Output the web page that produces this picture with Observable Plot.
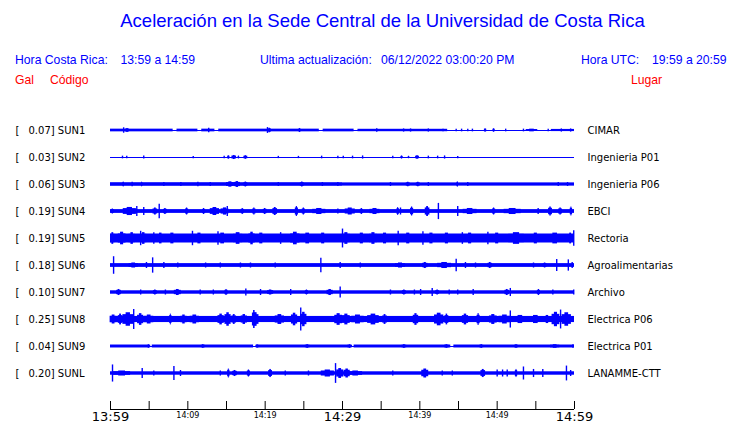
<!DOCTYPE html>
<html><head><meta charset="utf-8">
<script src="https://cdn.jsdelivr.net/npm/d3@7"></script>
<script src="https://cdn.jsdelivr.net/npm/@observablehq/plot@0.6"></script>
<style>
body{margin:0;background:#fff;}
#wrap{position:relative;width:740px;height:423px;overflow:hidden;font-family:"Liberation Sans",Arial,sans-serif;}
.t{position:absolute;white-space:pre;line-height:14px;font-size:12.2px;color:#0000ff;}
.r{color:#ff0000;}
#title{position:absolute;left:0;width:765px;text-align:center;top:10px;font-size:18.5px;line-height:22px;color:#0000ff;}
#chart{position:absolute;left:0;top:100px;}
</style></head><body>
<div id="wrap">
  <div id="title"></div>
  <div id="hdr"></div>
  <div id="chart"></div>
</div>
<script>
// ---- text content ----
const titleText = "Aceleración en la Sede Central de la Universidad de Costa Rica";
const headerTexts = ["Hora Costa Rica:", "13:59 a 14:59", "Ultima actualización:", "06/12/2022 03:00:20 PM", "Hora UTC:", "19:59 a 20:59"];
const headerLeft = [15, 120.5, 260, 381, 581, 652];
const columnTexts = ["Gal", "Código", "Lugar"];
const columnLeft = [15, 50, 631];

// ---- stations ----
const stations = ["SUN1","SUN2","SUN3","SUN4","SUN5","SUN6","SUN7","SUN8","SUN9","SUNL"];
const maxGal = ["0.07","0.03","0.06","0.19","0.19","0.18","0.10","0.25","0.04","0.20"];
const places = ["CIMAR","Ingenieria P01","Ingenieria P06","EBCI","Rectoria","Agroalimentarias","Archivo","Electrica P06","Electrica P01","LANAMME-CTT"];

// ---- time axis (minutes after 13:59) ----
const tickMinutes = [0,5,10,15,20,25,30,35,40,45,50,55,60];
const bigLabelMinutes = [0,30,60];
const bigLabels = ["13:59","14:29","14:59"];
const smallLabelMinutes = [10,20,40,50];
const smallLabels = ["14:09","14:19","14:39","14:49"];

// ---- traces: steady band [start min, end min, half amplitude Gal] ----
const coreSUN1 = [[0,8.1,0.03],[8.6,11.3,0.03],[11.8,13.5,0.03],[14,27,0.03],[27.5,31.5,0.03],[32,43.6,0.027],[57,60,0.024]];
const coreSUN2 = [];
const coreSUN3 = [[0,30,0.04],[30,60,0.036]];
const coreSUN4 = [[0,60,0.042]];
const coreSUN5 = [[0,60,0.1]];
const coreSUN6 = [[0,60,0.042]];
const coreSUN7 = [[0,60,0.038]];
const coreSUN8 = [[0,60,0.068]];
const coreSUN9 = [[0,5,0.033],[5.4,18.5,0.033],[19,31,0.033],[31.5,44,0.033],[44.4,60,0.033]];
const coreSUNL = [[0,60,0.038]];

// ---- bursts: [minute, half amplitude Gal, duration min] (0 = single spike) ----
const evSUN1 = [[1.7,0.06,0],[2.2,0.045,0.5],[12.7,0.05,0],[20.3,0.065,0],[20.6,0.05,0.4],[24.5,0.045,0.3],[34.5,0.045,0.2],
  [37.9,0.035,0],[38.8,0.035,0],[41.1,0.035,0],[43,0.03,0],[44.7,0.03,0],[45.4,0.03,0],[46.2,0.03,0],[46.8,0.03,0],
  [48.5,0.04,0.3],[49.6,0.04,0.3],[51.1,0.03,0],[53.4,0.03,0],[54.5,0.03,1.5],[56.6,0.03,0],[58.3,0.035,0],[59.5,0.035,0]];
const evSUN2 = [[1.55,0.03,0],[2.1,0.03,0],[4.3,0.035,0],[10.7,0.025,0],[14.7,0.03,0],[15.3,0.04,0.3],[16.0,0.045,0.6],[16.6,0.035,0.2],
  [17.5,0.04,0.5],[21.7,0.025,0],[24.3,0.025,0],[27.3,0.03,0],[29.4,0.03,0],[30.1,0.03,0],[31.3,0.03,0],[32.6,0.035,0],[36.5,0.03,0],
  [37.7,0.035,0.3],[38.6,0.03,0.2],[39.7,0.04,0.5],[41.1,0.03,0],[42.3,0.03,0],[43.2,0.035,0],[44.9,0.025,0]];
const evSUN3 = [[1.7,0.06,0.2],[2.8,0.05,0],[4.1,0.055,0.2],[6.9,0.045,0],[9.1,0.045,0],[11.3,0.05,0],[12.9,0.045,0],[15.5,0.06,1.0],
  [16.4,0.065,0.8],[17.5,0.055,0.5],[21.7,0.045,0],[24.8,0.055,0.5],[27.4,0.045,0],[29.4,0.045,0],[36.2,0.045,0],[38.5,0.05,0.5],
  [39.8,0.05,0.5],[41.1,0.045,0],[44.9,0.065,0.2],[46.2,0.045,0],[57.9,0.045,0],[59.1,0.045,0]];
const evSUN4 = [[0.3,0.056,0.4],[2.5,0.09,1.7],[3.4,0.11,0],[4.3,0.09,0],[5.8,0.078,0.6],[6.3,0.16,0],[7.1,0.067,0.5],[9.9,0.078,0.4],
  [12.1,0.067,0.4],[13.5,0.089,1.2],[14.8,0.08,1.0],[15.1,0.11,0],[17.1,0.067,0.4],[18.6,0.078,0.4],[20.0,0.067,0.5],[21.3,0.089,0.6],
  [24.1,0.11,0.4],[25.0,0.078,0.4],[27.0,0.067,1.7],[29.4,0.056,0],[31.0,0.078,1.3],[32.5,0.067,0.4],[34.2,0.067,1.3],[37.2,0.089,0.3],
  [37.5,0.078,0],[39.0,0.1,0.4],[41.0,0.11,0.6],[42.4,0.18,0],[44.9,0.11,0],[46.5,0.067,1.8],[49.6,0.078,0.4],[52.0,0.067,2.2],
  [55.3,0.067,0],[56.9,0.1,0.5],[58.2,0.078,0.5],[59.6,0.1,0.3]];
const evSUN5 = [[0.3,0.13,0.6],[1.5,0.14,1.0],[2.8,0.13,0.8],[3.9,0.16,0],[4.3,0.13,0.8],[5.6,0.13,0],[6.5,0.12,0.8],[8,0.12,1],
  [10.6,0.16,0],[11.5,0.12,1],[13.9,0.15,0],[14.5,0.12,1.2],[16.5,0.13,1.2],[18.3,0.14,0.8],[19.5,0.12,1],[22.0,0.13,0],
  [23.9,0.14,1.2],[25.5,0.12,1.2],[27.5,0.12,1],[30.0,0.21,0],[30.5,0.13,1],[32.5,0.12,1],[34.0,0.13,1],[35.5,0.12,1],[37.2,0.16,0],
  [38.5,0.12,1],[40.4,0.15,0],[41.5,0.12,1],[43.5,0.12,1],[45.5,0.13,0],[46.5,0.12,1],[48.8,0.14,0],[50.0,0.12,1],[52.5,0.13,2],
  [55,0.12,1],[57.5,0.12,1.5],[59.5,0.12,0.6],[59.9,0.17,0]];
const evSUN6 = [[0.4,0.195,0],[3.0,0.056,1.2],[4.65,0.067,0],[5.45,0.17,0],[6.9,0.067,0],[8.7,0.056,0],[12.3,0.056,0],[14.2,0.056,0],
  [16.8,0.056,0],[18.1,0.056,0],[21.3,0.056,0],[27.2,0.16,0],[29.7,0.067,0],[32.3,0.056,0],[37.5,0.056,1.3],[40.7,0.067,0.7],
  [43.2,0.067,1.8],[44.7,0.14,0],[45.9,0.067,0],[47.2,0.056,0],[49.1,0.067,0.6],[54.7,0.056,0],[56.2,0.056,0.5],[57.7,0.135,0],
  [59.2,0.125,0],[59.7,0.067,0]];
const evSUN7 = [[1.1,0.067,0.6],[3.9,0.056,0],[5.8,0.056,0.5],[7.1,0.056,0],[8.7,0.067,0.9],[11.6,0.056,0],[13.3,0.056,0],[15.0,0.067,0.4],
  [17.5,0.078,0],[19.4,0.067,0],[20.7,0.056,0.8],[23.3,0.067,0],[25.4,0.056,0.4],[28.4,0.067,0.8],[29.7,0.12,0],[36.2,0.056,0],
  [38.0,0.056,0.5],[39.3,0.056,0],[40.1,0.067,0],[41.6,0.09,0],[42.3,0.056,0.5],[43.8,0.056,0],[44.9,0.056,0],[46.9,0.067,0],
  [51.3,0.067,0.6],[51.7,0.09,0],[55.4,0.067,0.4],[57.2,0.056,0],[59.9,0.056,0]];
const evSUN8 = [[0.4,0.1,0.9],[1.3,0.12,0.6],[2.3,0.15,1.4],[3.0,0.22,0],[3.9,0.13,0.8],[5.0,0.1,1.2],[7.8,0.12,0.3],[9.5,0.1,0.8],
  [10.9,0.1,1.2],[14.3,0.12,0.8],[15.2,0.15,0.8],[16.0,0.11,0.6],[17.3,0.11,0.8],[18.6,0.2,0.5],[18.8,0.15,0.8],[21.9,0.11,1.2],
  [23.8,0.14,0.8],[24.6,0.255,0],[25.0,0.16,0.8],[29.5,0.13,1.0],[30.5,0.12,1.0],[32.0,0.1,1.6],[34.0,0.12,1.5],[35.5,0.11,0.6],
  [39.5,0.13,0.7],[42.5,0.14,1.2],[43.5,0.12,0.5],[45.9,0.12,0.8],[47.6,0.13,0.4],[49.5,0.11,1],[51.0,0.1,1.5],[51.7,0.19,0],
  [53.0,0.09,1.5],[55.0,0.09,1.5],[56.5,0.09,0.8],[57.6,0.16,1.0],[58.2,0.21,0],[59.0,0.15,1.2]];
const evSUN9 = [[5,0.04,0.4],[12,0.04,0.5],[19,0.04,0.4],[25.5,0.04,0.6],[31,0.04,0.6],[38,0.04,0.6],[43.5,0.04,0.6],[48,0.04,0.5],
  [52.5,0.04,0.5],[57.5,0.04,1.2],[59.8,0.04,0]];
const evSUNL = [[0.26,0.19,0],[1.5,0.056,2.2],[4.1,0.11,0],[5.6,0.056,0],[8.2,0.155,0],[9.05,0.067,0],[14.2,0.056,0],[15.3,0.1,0.3],
  [16.1,0.067,0.6],[17.9,0.078,0.4],[20.7,0.09,0.5],[22.6,0.056,0],[25.6,0.056,0],[28.1,0.078,1.7],[29.1,0.22,0],[29.7,0.11,0.9],
  [30.6,0.1,0.8],[31.7,0.056,1.8],[36.5,0.056,0],[40.7,0.1,0.9],[42.9,0.056,0],[44.2,0.056,0],[48.2,0.09,0.6],[50.0,0.078,0],
  [50.7,0.078,0],[51.3,0.078,0],[52.5,0.09,0.3],[53.4,0.145,0],[54.7,0.09,0],[55.9,0.09,0],[58.96,0.165,0],[59.5,0.067,0]];

const cores = [coreSUN1,coreSUN2,coreSUN3,coreSUN4,coreSUN5,coreSUN6,coreSUN7,coreSUN8,coreSUN9,coreSUNL];
const events = [evSUN1,evSUN2,evSUN3,evSUN4,evSUN5,evSUN6,evSUN7,evSUN8,evSUN9,evSUNL];

// ---- header HTML ----
document.getElementById("title").textContent = titleText;
const hdr = document.getElementById("hdr");
headerTexts.forEach((t,i)=>{const d=document.createElement("div");d.className="t";d.style.left=headerLeft[i]+"px";d.style.top="53px";d.textContent=t;hdr.appendChild(d);});
columnTexts.forEach((t,i)=>{const d=document.createElement("div");d.className="t r";d.style.left=columnLeft[i]+"px";d.style.top="73px";d.textContent=t;hdr.appendChild(d);});

// ---- layout of the trace stack ----
const BLUE = "#0000ff";
const ROW = 0.6;            // Gal between neighbouring baselines
const PXG = 45;             // pixels per Gal
const H = 323, MB = 14;
const Y_MAX = 30 / PXG;
const Y_MIN = Y_MAX - (H - MB) / PXG;
const TICK = 8 / PXG;

const base = i => -i * ROW;
const rows = stations.map((s,i)=>({i, code:s, gal:maxGal[i]+"] "+s, place:places[i], y:base(i)}));
const coreData = cores.flatMap((segs,i)=>segs.map(([a,b,h])=>({i,a,b,h})));
const evData = events.flatMap((evs,i)=>evs.map(([m,h,w],k)=>({i,m,h,w})));
const spikes = evData.filter(d=>d.w===0);
const bursts = evData.filter(d=>d.w>0);

const chart = Plot.plot({
  width:740, height:H, marginLeft:110, marginRight:166, marginTop:0, marginBottom:MB,
  x:{domain:[0,60], axis:null},
  y:{domain:[Y_MIN,Y_MAX], axis:null},
  style:{fontFamily:"'DejaVu Sans', sans-serif", fontSize:"10px", background:"white", color:"black", overflow:"visible"},
  marks:[
    Plot.ruleY(rows,{y:"y", stroke:BLUE, strokeWidth:1}),
    Plot.rect(coreData,{x1:"a", x2:"b", y1:d=>base(d.i)-d.h, y2:d=>base(d.i)+d.h, fill:BLUE}),
    // burst body (stepped envelope) and its peak
    Plot.rect(bursts,{x1:d=>d.m-d.w/2, x2:d=>d.m+d.w/2, y1:d=>base(d.i)-d.h*0.72, y2:d=>base(d.i)+d.h*0.72, fill:BLUE}),
    Plot.rect(bursts,{x1:d=>d.m-d.w*0.2, x2:d=>d.m+d.w*0.2, y1:d=>base(d.i)-d.h, y2:d=>base(d.i)+d.h, fill:BLUE}),
    Plot.ruleX(spikes,{x:"m", y1:d=>base(d.i)-d.h, y2:d=>base(d.i)+d.h, stroke:BLUE, strokeWidth:1.4}),
    Plot.text(rows,{y:"y", frameAnchor:"left", text:()=>"[", dx:-95, textAnchor:"start", fill:"black"}),
    Plot.text(rows,{y:"y", frameAnchor:"left", text:"gal", dx:-82, textAnchor:"start", fill:"black"}),
    Plot.text(rows,{y:"y", frameAnchor:"right", text:"place", dx:13, textAnchor:"start", fill:"black"}),
    Plot.ruleY([Y_MIN],{stroke:"black", strokeWidth:1}),
    Plot.ruleX(tickMinutes,{x:d=>d, y1:Y_MIN, y2:Y_MIN+TICK, stroke:"black", strokeWidth:1}),
    Plot.text(bigLabelMinutes,{x:d=>d, frameAnchor:"bottom", text:(d,i)=>bigLabels[i], dy:7, lineAnchor:"middle", fontSize:13, fill:"black"}),
    Plot.text(smallLabelMinutes,{x:d=>d, frameAnchor:"bottom", text:(d,i)=>smallLabels[i], dy:6, lineAnchor:"middle", fontSize:8, fill:"black"})
  ]
});
document.getElementById("chart").appendChild(chart);
</script>
</body></html>
